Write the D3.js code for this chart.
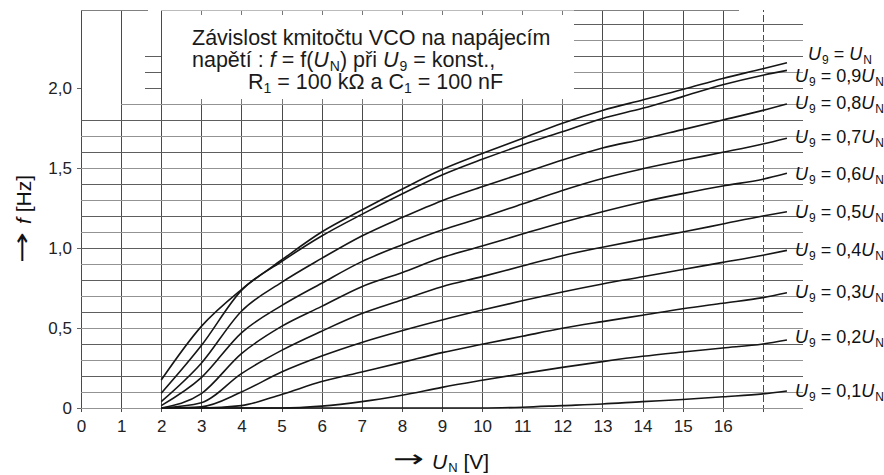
<!DOCTYPE html>
<html><head><meta charset="utf-8">
<script src="https://cdn.jsdelivr.net/npm/d3@7"></script>
<style>
html,body{margin:0;padding:0;background:#fff;}
svg{display:block;font-family:"Liberation Sans",Arial,Helvetica,sans-serif;}
</style></head><body>
<svg id="chart" width="884" height="475"></svg>
<script>
// ---- data ----
const uN = [2,3,4,5,6,7,8,9,10,11,12,13,14,15,16,17,17.6];
const f_U10 = [0.175,0.51,0.74,0.925,1.10,1.237,1.367,1.49,1.59,1.685,1.78,1.86,1.925,1.99,2.06,2.12,2.158];
const f_U09 = [0.092,0.39,0.735,0.915,1.075,1.21,1.337,1.456,1.554,1.644,1.727,1.81,1.873,1.946,2.02,2.08,2.11];
const f_U08 = [0.04,0.28,0.605,0.785,0.935,1.075,1.19,1.296,1.383,1.466,1.55,1.625,1.68,1.74,1.80,1.86,1.90];
const f_U07 = [0.015,0.19,0.47,0.64,0.78,0.915,1.019,1.112,1.19,1.275,1.36,1.435,1.495,1.548,1.598,1.65,1.686];
const f_U06 = [0,0.09,0.34,0.51,0.635,0.758,0.846,0.94,1.012,1.087,1.16,1.227,1.288,1.34,1.388,1.43,1.467];
const f_U05 = [0,0.033,0.215,0.36,0.48,0.59,0.675,0.758,0.821,0.887,0.952,1.005,1.054,1.10,1.15,1.20,1.227];
const f_U04 = [0,0.008,0.10,0.225,0.325,0.41,0.483,0.55,0.612,0.67,0.725,0.775,0.82,0.866,0.91,0.955,0.985];
const f_U03 = [0,0,0.015,0.085,0.165,0.225,0.285,0.346,0.398,0.448,0.498,0.54,0.58,0.62,0.655,0.69,0.72];
const f_U02 = [0,0,0,0,0.012,0.04,0.08,0.129,0.173,0.215,0.254,0.29,0.323,0.35,0.375,0.40,0.425];
const f_U01 = [0,0,0,0,0,0,0,0,0,0.005,0.015,0.025,0.04,0.053,0.07,0.088,0.106];
const coefLabels = ["", "0,9", "0,8", "0,7", "0,6", "0,5", "0,4", "0,3", "0,2", "0,1"];
const xTickLabels = [0,1,2,3,4,5,6,7,8,9,10,11,12,13,14,15,16];
const yTickLabels = [0,0.5,1.0,1.5,2.0];

const seriesList = [f_U10,f_U09,f_U08,f_U07,f_U06,f_U05,f_U04,f_U03,f_U02,f_U01];

// ---- layout ----
const svg = d3.select("#chart");
const x = d3.scaleLinear().domain([0,18]).range([81,803]);
const y = d3.scaleLinear().domain([0,2.5]).range([408,8]);
const yTop = 2.49;
const vCol = "#4a4a4a";

const grid = svg.append("g").attr("shape-rendering","crispEdges");
function hline(v, x0, x1, col, w){
  grid.append("line").attr("x1",x(x0)).attr("x2",x(x1)).attr("y1",Math.round(y(v))+0.5).attr("y2",Math.round(y(v))+0.5)
    .attr("stroke",col).attr("stroke-width",w||1);
}
// vertical grid lines
for (let i=0;i<=17;i++){
  grid.append("line").attr("x1",Math.round(x(i))+0.5).attr("x2",Math.round(x(i))+0.5)
    .attr("y1",y(0)+4).attr("y2",y(yTop))
    .attr("stroke", vCol).attr("stroke-width",1)
    .attr("stroke-dasharray", i===17 ? "7,3" : null);
}
// horizontal grid lines
for (let k=1;k<=19;k++){
  hline(k/10, k===19 ? 1 : 0, 18, (k%2===0) ? "#5e5e5e" : "#939393", 1);
}
for (let k=20;k<=24;k++){
  hline(k/10, 12.3, 18, (k%2===0) ? "#5e5e5e" : "#939393", 1);
}
for (let k=20;k<=22;k++){ hline(k/10, 1.6, 2, "#5e5e5e", 1); }
hline(0, 0, 18, "#939393", 1);
hline(yTop, 0, 1.67, "#808080", 1);
hline(yTop, 12.3, 16.4, "#808080", 1);

// white title box
grid.append("rect").attr("x",x(2)+1.5).attr("y",y(yTop)+1)
  .attr("width",x(12.3)-x(2)-1.5).attr("height",y(1.9)-y(yTop)-1).attr("fill","#fff");
for (let i=3;i<=12;i++){
  const xx = Math.round(x(i))+0.5;
  grid.append("line").attr("x1",xx).attr("x2",xx).attr("y1",y(yTop)).attr("y2",y(yTop)+5).attr("stroke","#777");
  grid.append("line").attr("x1",xx).attr("x2",xx).attr("y1",y(1.9)).attr("y2",y(1.9)-5).attr("stroke","#777");
}
hline(yTop, 2, 12.3, "#bbbbbb", 1);

// ---- curves ----
const line = d3.line().x((d,i)=>x(uN[i])).y(d=>y(d)).curve(d3.curveMonotoneX);
svg.append("g").selectAll("path").data(seriesList).join("path")
  .attr("d", d=>line(d)).attr("fill","none").attr("stroke","#161616").attr("stroke-width",1.6)
  .attr("stroke-linejoin","round");

// ---- curve labels ----
const labelDy = [-3, 11.5, 5, 5, 6.5, 6.5, 5.5, 5, 3, 6];
const lastX = uN[uN.length-1];
const lab = svg.append("g").attr("font-size",18).attr("fill","#111");
seriesList.forEach((s,i)=>{
  const t = lab.append("text")
    .attr("x", x(lastX) + (i===0 ? 21 : 8))
    .attr("y", y(s[s.length-1]) + labelDy[i]);
  t.append("tspan").attr("font-style","italic").text("U");
  t.append("tspan").attr("font-size",12).attr("dx",1).attr("dy",4).text("9");
  t.append("tspan").attr("dy",-4).text(" = " + coefLabels[i]);
  t.append("tspan").attr("font-style","italic").text("U");
  t.append("tspan").attr("font-size",12).attr("dx",1).attr("dy",4).text("N");
});

// ---- axes ----
const fmtY = d => d===0 ? "0" : d3.format(".1f")(d).replace(".", ",");
const xAxis = svg.append("g").attr("transform",`translate(0,${y(0)})`)
  .call(d3.axisBottom(x).tickValues(xTickLabels).tickSize(0).tickPadding(12).tickFormat(d3.format("d")));
xAxis.select(".domain").remove();
xAxis.selectAll("text").attr("font-size",17).attr("fill","#222").attr("font-family","Liberation Sans, Arial, sans-serif");
const yAxis = svg.append("g").attr("transform",`translate(${x(0)},0)`)
  .call(d3.axisLeft(y).tickValues(yTickLabels).tickSize(4).tickPadding(5).tickFormat(fmtY));
yAxis.select(".domain").remove();
yAxis.selectAll("line").attr("stroke","#666");
yAxis.selectAll("text").attr("font-size",17).attr("fill","#222").attr("font-family","Liberation Sans, Arial, sans-serif");

// axis titles
svg.append("text").attr("x",393).attr("y",467).attr("font-size",24)
  .attr("font-family","DejaVu Sans, sans-serif").attr("fill","#111")
  .attr("textLength",31).attr("lengthAdjust","spacingAndGlyphs").text("→");
const xt = svg.append("text").attr("x",432).attr("y",469).attr("font-size",21).attr("fill","#111");
xt.append("tspan").attr("font-style","italic").text("U");
xt.append("tspan").attr("font-size",13).attr("dx",1).attr("dy",3).text("N");
xt.append("tspan").attr("dy",-3).text(" [V]");

const yg = svg.append("g").attr("transform","translate(31,263) rotate(-90)");
yg.append("text").attr("x",0).attr("y",-1).attr("font-size",24)
  .attr("font-family","DejaVu Sans, sans-serif").attr("fill","#111")
  .attr("textLength",31).attr("lengthAdjust","spacingAndGlyphs").text("→");
const yt = yg.append("text").attr("x",39).attr("y",0).attr("font-size",21).attr("fill","#111");
yt.append("tspan").attr("font-style","italic").text("f");
yt.append("tspan").text(" [Hz]");

// ---- title ----
const tg = svg.append("g").attr("font-size",21.5).attr("fill","#1a1a1a");
tg.append("text").attr("x",192).attr("y",45).text("Závislost kmitočtu VCO na napájecím");
const t2 = tg.append("text").attr("x",192).attr("y",67);
t2.append("tspan").text("napětí : ");
t2.append("tspan").attr("font-style","italic").text("f");
t2.append("tspan").text(" = f(");
t2.append("tspan").attr("font-style","italic").text("U");
t2.append("tspan").attr("font-size",14).attr("dx",1).attr("dy",4).text("N");
t2.append("tspan").attr("dy",-4).text(") při ");
t2.append("tspan").attr("font-style","italic").text("U");
t2.append("tspan").attr("font-size",14).attr("dx",1).attr("dy",4).text("9");
t2.append("tspan").attr("dy",-4).text(" = konst.,");
const t3 = tg.append("text").attr("x",248).attr("y",89);
t3.append("tspan").text("R");
t3.append("tspan").attr("font-size",14).attr("dy",4).text("1");
t3.append("tspan").attr("dy",-4).text(" = 100 kΩ a C");
t3.append("tspan").attr("font-size",14).attr("dy",4).text("1");
t3.append("tspan").attr("dy",-4).text(" = 100 nF");
</script>
</body></html>
